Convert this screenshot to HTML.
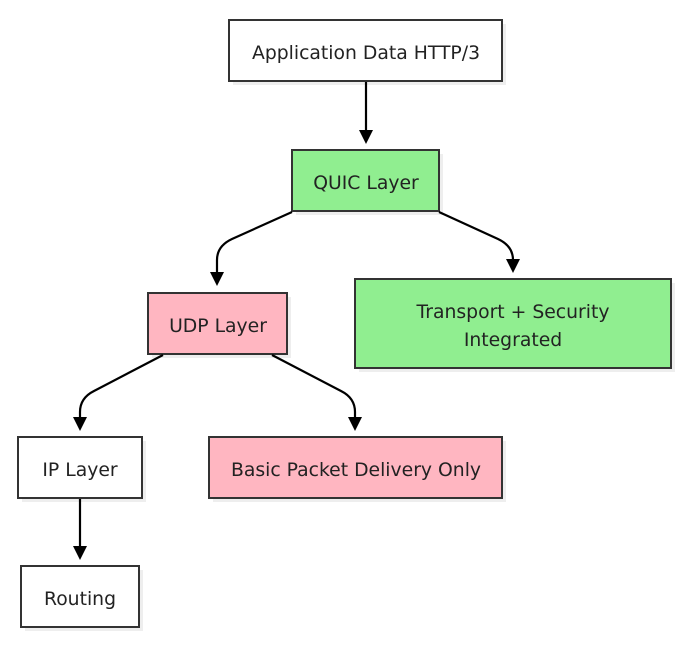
<!DOCTYPE html>
<html><head><style>
body{margin:0;background:#fff;width:686px;height:648px;overflow:hidden}
svg text{font-family:"DejaVu Sans","Liberation Sans",sans-serif;font-size:18.8px;fill:#222;text-anchor:middle;dominant-baseline:central}
</style></head><body>
<svg width="686" height="648" viewBox="0 0 686 648">
<defs><marker id="a" markerWidth="14" markerHeight="14" refX="7" refY="7" orient="auto" markerUnits="userSpaceOnUse"><path d="M0,0 L14,7 L0,14z" fill="#000"/></marker></defs>
<g fill="#eee">
<rect x="233" y="24" width="273" height="61"/><rect x="296" y="154" width="147" height="61"/>
<rect x="359" y="283" width="316" height="89"/><rect x="152" y="297" width="139" height="61"/>
<rect x="22" y="441" width="124" height="61"/><rect x="213" y="441" width="293" height="61"/>
<rect x="25" y="570" width="118" height="61"/></g>
<g stroke="#333" stroke-width="2">
<rect x="229" y="20" width="273" height="61" fill="#fff"/>
<rect x="292" y="150" width="147" height="61" fill="#90ee90"/>
<rect x="355" y="279" width="316" height="89" fill="#90ee90"/>
<rect x="148" y="293" width="139" height="61" fill="#ffb6c1"/>
<rect x="18" y="437" width="124" height="61" fill="#fff"/>
<rect x="209" y="437" width="293" height="61" fill="#ffb6c1"/>
<rect x="21" y="566" width="118" height="61" fill="#fff"/>
</g>
<g stroke="#000" stroke-width="2.2" fill="none" marker-end="url(#a)">
<path d="M366,82 L366,137"/>
<path d="M292,212 L232,239 Q217,246 217,260 L217,279"/>
<path d="M439,212 L498,239 Q513,246 513,260 L513,266"/>
<path d="M163,355 L94,391 Q80,398 80,412 L80,424"/>
<path d="M272,355 L341,391 Q355,398 355,412 L355,424"/>
<path d="M80,499 L80,553"/>
</g>
<g transform="translate(0,1.5)">
<text x="366" y="52">Application Data HTTP/3</text>
<text x="366" y="182">QUIC Layer</text>
<text x="513" y="311">Transport + Security</text>
<text x="513" y="339">Integrated</text>
<text x="218" y="325">UDP Layer</text>
<text x="80" y="469">IP Layer</text>
<text x="356" y="469">Basic Packet Delivery Only</text>
<text x="80" y="598">Routing</text>
</g>
</svg>
</body></html>
